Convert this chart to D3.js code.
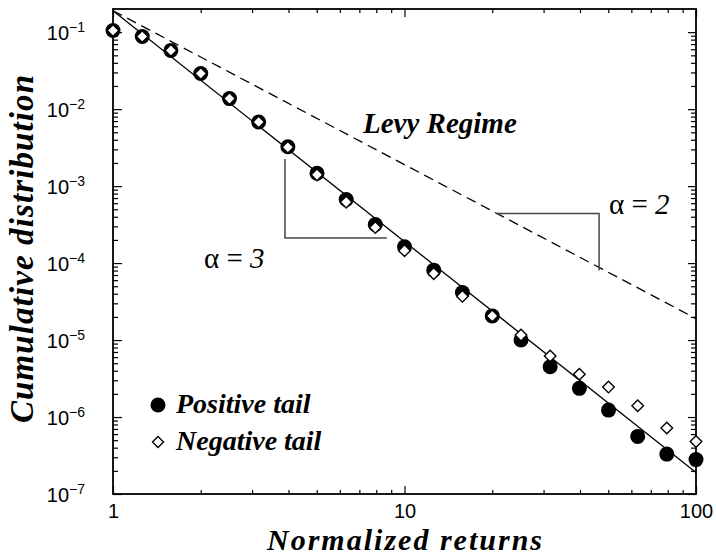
<!DOCTYPE html>
<html>
<head>
<meta charset="utf-8">
<script src="https://cdn.jsdelivr.net/npm/d3@7"></script>
<style>
  html, body { margin: 0; padding: 0; background: #fff; }
  svg { display: block; }
</style>
</head>
<body>
<svg id="chart" width="716" height="557"></svg>
<script>
// Normalized return bins (log-spaced, 10 per decade)
const returns = [1, 1.26, 1.58, 2, 2.51, 3.16, 3.98, 5.01, 6.31, 7.94, 10,
                 12.6, 15.8, 20, 25.1, 31.6, 39.8, 50.1, 63.1, 79.4, 100];

// Cumulative distribution of the positive tail
const positiveTail = [0.105, 0.088, 0.058, 0.029, 0.0137, 0.0068, 0.00325, 0.00147,
                      6.7e-4, 3.17e-4, 1.63e-4, 8.1e-5, 4.15e-5, 2.06e-5, 1.0e-5,
                      4.5e-6, 2.36e-6, 1.23e-6, 5.6e-7, 3.3e-7, 2.8e-7];

// Cumulative distribution of the negative tail
const negativeTail = [0.105, 0.088, 0.058, 0.029, 0.0137, 0.0068, 0.0032, 0.0014,
                      6.2e-4, 2.9e-4, 1.45e-4, 7.3e-5, 3.7e-5, 2.06e-5, 1.16e-5,
                      6.2e-6, 3.6e-6, 2.45e-6, 1.4e-6, 7.2e-7, 4.8e-7];

// Power-law guides: inverse cubic fit (alpha = 3) and Levy bound (alpha = 2)
const cubicLaw = [[1, 0.19], [100, 1.9e-7]];
const levyLaw  = [[1, 0.19], [100, 1.9e-5]];

// Slope markers drawn beside the two guides
const slopeMarker3 = [[3.89, 2.25e-3], [3.89, 2.12e-4], [8.7, 2.12e-4]];
const slopeMarker2 = [[20.8, 4.4e-4], [46.5, 4.4e-4], [46.5, 8.0e-5]];

// Axis ticks
const xMajorTicks = [1, 10, 100];
const xTickLabels = ["1", "10", "100"];
const yExponents = [-7, -6, -5, -4, -3, -2, -1];
const minorMultipliers = [2, 3, 4, 5, 6, 7, 8, 9];

const svg = d3.select("#chart");
const plotLeft = 113, plotRight = 696, plotTop = 9, plotBottom = 494;

const x = d3.scaleLog().domain([1, 100]).range([plotLeft, plotRight]);
const y = d3.scaleLog().domain([1e-7, 0.2]).range([plotBottom, plotTop]);

const xMinorTicks = [];
[1, 10].forEach(d => minorMultipliers.forEach(m => xMinorTicks.push(d * m)));
const yMajorTicks = yExponents.map(e => Math.pow(10, e));
const yMinorTicks = [];
yExponents.forEach(e => minorMultipliers.forEach(m => {
  const v = m * Math.pow(10, e);
  if (v < 0.2) yMinorTicks.push(v);
}));

const sans = "'Liberation Sans', Arial, Helvetica, sans-serif";
const serif = "'Liberation Serif', 'Times New Roman', Times, serif";

// ---- axes (inward ticks on all four sides) ----
function styleAxis(g) {
  g.select(".domain").remove();
  g.selectAll(".tick line").attr("stroke", "#000").attr("stroke-width", 1.2);
}

svg.append("g").attr("transform", `translate(0,${plotBottom})`)
  .call(d3.axisBottom(x).tickValues(xMinorTicks).tickSize(-4).tickFormat(""))
  .call(styleAxis);
const xAxis = svg.append("g").attr("transform", `translate(0,${plotBottom})`)
  .call(d3.axisBottom(x).tickValues(xMajorTicks).tickSize(-8).tickPadding(10)
        .tickFormat((d, i) => xTickLabels[i]))
  .call(styleAxis);
xAxis.selectAll(".tick text")
  .attr("font-family", sans).attr("font-size", 20).attr("fill", "#000");

svg.append("g").attr("transform", `translate(0,${plotTop})`)
  .call(d3.axisTop(x).tickValues(xMinorTicks).tickSize(-4).tickFormat(""))
  .call(styleAxis);
svg.append("g").attr("transform", `translate(0,${plotTop})`)
  .call(d3.axisTop(x).tickValues(xMajorTicks).tickSize(-8).tickFormat(""))
  .call(styleAxis);

svg.append("g").attr("transform", `translate(${plotLeft},0)`)
  .call(d3.axisLeft(y).tickValues(yMinorTicks).tickSize(-5).tickFormat(""))
  .call(styleAxis);
const yAxis = svg.append("g").attr("transform", `translate(${plotLeft},0)`)
  .call(d3.axisLeft(y).tickValues(yMajorTicks).tickSize(-9).tickFormat(""))
  .call(styleAxis);
yAxis.selectAll(".tick text").remove();
yAxis.selectAll(".tick").append("text")
  .attr("x", -28).attr("y", 7)
  .attr("text-anchor", "end")
  .attr("font-family", sans).attr("fill", "#000")
  .each(function (d) {
    const t = d3.select(this);
    t.append("tspan").attr("font-size", 20).text("10");
    t.append("tspan").attr("font-size", 14).attr("dy", -8)
      .text("\u2212" + Math.abs(Math.round(Math.log10(d))));
  });

svg.append("g").attr("transform", `translate(${plotRight},0)`)
  .call(d3.axisRight(y).tickValues(yMinorTicks).tickSize(-5).tickFormat(""))
  .call(styleAxis);
svg.append("g").attr("transform", `translate(${plotRight},0)`)
  .call(d3.axisRight(y).tickValues(yMajorTicks).tickSize(-8).tickFormat(""))
  .call(styleAxis);

// plot frame
svg.append("rect")
  .attr("x", plotLeft).attr("y", plotTop)
  .attr("width", plotRight - plotLeft).attr("height", plotBottom - plotTop)
  .attr("fill", "none").attr("stroke", "#000").attr("stroke-width", 1.8);

// ---- guide lines ----
const line = d3.line().x(d => x(d[0])).y(d => y(d[1]));

svg.append("path").datum(levyLaw)
  .attr("d", line).attr("fill", "none")
  .attr("stroke", "#000").attr("stroke-width", 1.3)
  .attr("stroke-dasharray", "10,6");

svg.append("path").datum(cubicLaw)
  .attr("d", line).attr("fill", "none")
  .attr("stroke", "#000").attr("stroke-width", 1.3);

[slopeMarker3, slopeMarker2].forEach(pts => {
  svg.append("path").datum(pts)
    .attr("d", line).attr("fill", "none")
    .attr("stroke", "#444").attr("stroke-width", 1.5);
});

// ---- data markers ----
const diamond = s => `M0,${-s}L${s},0L0,${s}L${-s},0Z`;

svg.append("g").selectAll("circle")
  .data(returns.map((r, i) => [r, positiveTail[i]]))
  .join("circle")
  .attr("cx", d => x(d[0])).attr("cy", d => y(d[1]))
  .attr("r", 7.5).attr("fill", "#000");

svg.append("g").selectAll("path")
  .data(returns.map((r, i) => [r, negativeTail[i]]))
  .join("path")
  .attr("transform", d => `translate(${x(d[0])},${y(d[1])})`)
  .attr("d", diamond(5.8))
  .attr("fill", "#fff").attr("stroke", "#000").attr("stroke-width", 1.4);

// ---- annotations ----
svg.append("text")
  .attr("x", 363).attr("y", 133)
  .attr("font-family", serif).attr("font-size", 29)
  .attr("font-weight", "bold").attr("font-style", "italic")
  .text("Levy Regime");

function alphaLabel(xp, yp, digit) {
  const t = svg.append("text").attr("x", xp).attr("y", yp)
    .attr("font-family", serif).attr("font-size", 29).attr("fill", "#000");
  t.append("tspan").text("\u03b1 = ");
  t.append("tspan").attr("font-style", "italic").text(digit);
}
alphaLabel(204, 268, "3");
alphaLabel(609, 214, "2");

// ---- legend ----
svg.append("circle").attr("cx", 158).attr("cy", 405).attr("r", 7.5).attr("fill", "#000");
svg.append("path").attr("transform", "translate(158,442)")
  .attr("d", diamond(5.5))
  .attr("fill", "#fff").attr("stroke", "#000").attr("stroke-width", 1.4);

[["Positive tail", 413], ["Negative tail", 450]].forEach(([label, yp]) => {
  svg.append("text").attr("x", 176).attr("y", yp)
    .attr("font-family", serif).attr("font-size", 28)
    .attr("font-weight", "bold").attr("font-style", "italic")
    .text(label);
});

// ---- axis titles ----
svg.append("text")
  .attr("x", (plotLeft + plotRight) / 2).attr("y", 550)
  .attr("text-anchor", "middle")
  .attr("font-family", serif).attr("font-size", 30)
  .attr("font-weight", "bold").attr("font-style", "italic")
  .attr("textLength", 275).attr("lengthAdjust", "spacing")
  .text("Normalized returns");

svg.append("text")
  .attr("transform", `translate(33,${(423 + 75) / 2}) rotate(-90)`)
  .attr("text-anchor", "middle")
  .attr("font-family", serif).attr("font-size", 33)
  .attr("font-weight", "bold").attr("font-style", "italic")
  .attr("textLength", 348).attr("lengthAdjust", "spacing")
  .text("Cumulative distribution");
</script>
</body>
</html>
